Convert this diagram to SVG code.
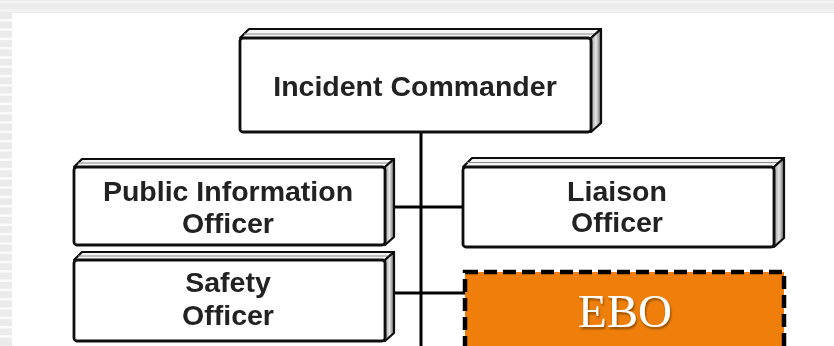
<svg xmlns="http://www.w3.org/2000/svg" width="834" height="346" viewBox="0 0 834 346">
  <defs>
    <style>
      .face { fill: #ffffff; stroke: #111; stroke-width: 2.8; stroke-linejoin: round; }
      .top { fill: #f4f4f4; stroke: #111; stroke-width: 2.2; stroke-linejoin: round; }
      .side { fill: url(#sideShade); stroke: #111; stroke-width: 2.2; stroke-linejoin: round; }
      .inner { fill: none; stroke: #8a8a8a; stroke-width: 1.2; }
      .label { font-family: "Liberation Sans", Arial, Helvetica, sans-serif; font-weight: bold; font-size: 28.5px; fill: #222; text-anchor: middle; }
      .wire { stroke: #000; stroke-width: 3; fill: none; }
      .ebo { fill: #EF7F0A; stroke: #000; stroke-width: 4.5; stroke-dasharray: 13 6; }
      .ebo-text { font-family: "Liberation Serif", "Times New Roman", serif; font-size: 47px; fill: #ffffff; text-anchor: middle; }
    </style>
    <linearGradient id="sideShade" x1="0" y1="0" x2="1" y2="0">
      <stop offset="0" stop-color="#9a9a9a"/>
      <stop offset="0.5" stop-color="#e6e6e6"/>
      <stop offset="1" stop-color="#6a6a6a"/>
    </linearGradient>
    <filter id="soft" x="-5%" y="-5%" width="110%" height="110%">
      <feGaussianBlur stdDeviation="0.55"/>
    </filter>
    <filter id="shadow" x="-10%" y="-10%" width="120%" height="130%">
      <feGaussianBlur in="SourceAlpha" stdDeviation="1"/>
      <feOffset dx="1" dy="1.5" result="b"/>
      <feComponentTransfer><feFuncA type="linear" slope="0.45"/></feComponentTransfer>
      <feMerge><feMergeNode/><feMergeNode in="SourceGraphic"/></feMerge>
    </filter>
  </defs>

  <!-- page background -->
  <rect x="0" y="0" width="834" height="346" fill="#ffffff"/>
  <rect x="0" y="0" width="834" height="13" fill="#ebebeb"/>
  <rect x="0" y="1.5" width="834" height="1.2" fill="#fafafa"/>
  <rect x="0" y="9" width="834" height="3" fill="#f2f2f2"/>
  <g fill="#ebebeb">
    <rect x="0" y="13" width="12" height="333"/>
  </g>
  <g fill="#fbfbfb">
    <rect x="0" y="19" width="12" height="2.5"/>
    <rect x="0" y="28.3" width="12" height="2.5"/>
    <rect x="0" y="37.6" width="12" height="2.5"/>
    <rect x="0" y="46.9" width="12" height="2.5"/>
    <rect x="0" y="56.2" width="12" height="2.5"/>
    <rect x="0" y="65.5" width="12" height="2.5"/>
    <rect x="0" y="74.8" width="12" height="2.5"/>
    <rect x="0" y="84.1" width="12" height="2.5"/>
    <rect x="0" y="93.4" width="12" height="2.5"/>
    <rect x="0" y="102.7" width="12" height="2.5"/>
    <rect x="0" y="112" width="12" height="2.5"/>
    <rect x="0" y="121.3" width="12" height="2.5"/>
    <rect x="0" y="130.6" width="12" height="2.5"/>
    <rect x="0" y="139.9" width="12" height="2.5"/>
    <rect x="0" y="149.2" width="12" height="2.5"/>
    <rect x="0" y="158.5" width="12" height="2.5"/>
    <rect x="0" y="167.8" width="12" height="2.5"/>
    <rect x="0" y="177.1" width="12" height="2.5"/>
    <rect x="0" y="186.4" width="12" height="2.5"/>
    <rect x="0" y="195.7" width="12" height="2.5"/>
    <rect x="0" y="205" width="12" height="2.5"/>
    <rect x="0" y="214.3" width="12" height="2.5"/>
    <rect x="0" y="223.6" width="12" height="2.5"/>
    <rect x="0" y="232.9" width="12" height="2.5"/>
    <rect x="0" y="242.2" width="12" height="2.5"/>
    <rect x="0" y="251.5" width="12" height="2.5"/>
    <rect x="0" y="260.8" width="12" height="2.5"/>
    <rect x="0" y="270.1" width="12" height="2.5"/>
    <rect x="0" y="279.4" width="12" height="2.5"/>
    <rect x="0" y="288.7" width="12" height="2.5"/>
    <rect x="0" y="298" width="12" height="2.5"/>
    <rect x="0" y="307.3" width="12" height="2.5"/>
    <rect x="0" y="316.6" width="12" height="2.5"/>
    <rect x="0" y="325.9" width="12" height="2.5"/>
    <rect x="0" y="335.2" width="12" height="2.5"/>
  </g>

  <g filter="url(#soft)">
    <!-- connectors -->
    <g id="connectors">
      <line class="wire" x1="421" y1="132" x2="421" y2="346"/>
      <line class="wire" x1="392" y1="207" x2="463" y2="207"/>
      <line class="wire" x1="392" y1="293" x2="465" y2="293"/>
    </g>

    <!-- Incident Commander -->
    <g id="incident-commander">
      <polygon class="top" points="240,38 249,29 601,29 591,38"/>
      <line class="inner" x1="244" y1="34" x2="596" y2="34"/>
      <polygon class="side" points="591,38 601,29 601,123 591,132"/>
      <rect class="face" x="240" y="38" width="351" height="94" rx="3"/>
      <text class="label" x="415" y="96">Incident Commander</text>
    </g>

    <!-- Public Information Officer -->
    <g id="public-information-officer">
      <polygon class="top" points="74,167 82,159 394,159 385,167"/>
      <line class="inner" x1="78" y1="163" x2="390" y2="163"/>
      <polygon class="side" points="385,167 394,159 394,237 385,245"/>
      <rect class="face" x="74" y="167" width="311" height="78" rx="3"/>
      <text class="label" x="228" y="201">Public Information</text>
      <text class="label" x="228" y="233">Officer</text>
    </g>

    <!-- Safety Officer -->
    <g id="safety-officer">
      <polygon class="top" points="74,260 82,252 394,252 385,260"/>
      <line class="inner" x1="78" y1="256" x2="390" y2="256"/>
      <polygon class="side" points="385,260 394,252 394,333 385,341"/>
      <rect class="face" x="74" y="260" width="311" height="81" rx="3"/>
      <text class="label" x="228" y="292">Safety</text>
      <text class="label" x="228" y="325">Officer</text>
    </g>

    <!-- Liaison Officer -->
    <g id="liaison-officer">
      <polygon class="top" points="463,167 472,158 784,158 774,167"/>
      <line class="inner" x1="467" y1="162.5" x2="779" y2="162.5"/>
      <polygon class="side" points="774,167 784,158 784,238 774,247"/>
      <rect class="face" x="463" y="167" width="311" height="80" rx="3"/>
      <text class="label" x="617" y="201">Liaison</text>
      <text class="label" x="617" y="232">Officer</text>
    </g>
  </g>

  <!-- EBO -->
  <g id="ebo">
    <rect class="ebo" x="465" y="272" width="319" height="90"/>
    <text class="ebo-text" x="625" y="327" filter="url(#shadow)">EBO</text>
  </g>
</svg>
